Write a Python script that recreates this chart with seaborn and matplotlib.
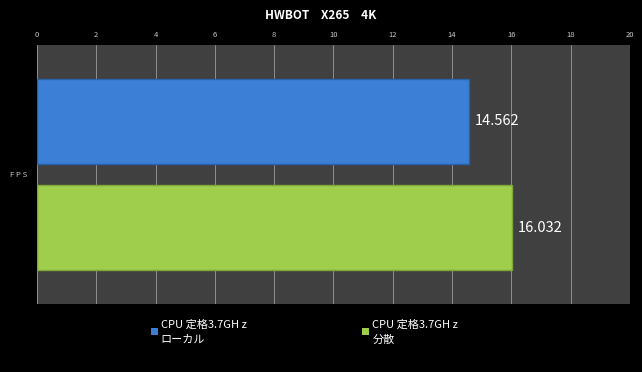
import matplotlib
matplotlib.use("Agg")
import matplotlib.pyplot as plt
import seaborn as sns
import pandas as pd

title = "HWBOT\u3000X265\u30004K"
categories = ["FPS"]
tick_labels = ["F P S"]
series = ["CPU 定格3.7GH z\nローカル", "CPU 定格3.7GH z\n分散"]
values = [14.562, 16.032]
value_labels = ["14.562", "16.032"]
colors = ["#3b80d6", "#9fcd4c"]
edge_colors = ["#2b5fa8", "#7fa83c"]
x_ticks = [0, 2, 4, 6, 8, 10, 12, 14, 16, 18, 20]

sns.set_style("dark")
plt.rcParams["font.family"] = ["Noto Sans CJK JP", "DejaVu Sans"]

df = pd.DataFrame({"cat": categories * len(series), "series": series, "value": values})

fig = plt.figure(figsize=(6.42, 3.72), dpi=100, facecolor="black")
ax = fig.add_axes([0.0576, 0.183, 0.9237, 0.696])
ax.set_facecolor("#404040")

sns.barplot(data=df, y="cat", x="value", hue="series", palette=colors,
            orient="h", width=0.82, gap=0.2, ax=ax, legend=True,
            linewidth=1, saturation=1)

for cont, ec in zip(ax.containers, edge_colors):
    for p in cont.patches:
        p.set_edgecolor(ec)

for cont, lab in zip(ax.containers, value_labels):
    ax.bar_label(cont, labels=[lab], padding=4, color="white", fontsize=10.5)

ax.set_xlim(0, 20)
ax.set_xticks(x_ticks)
ax.set_xticklabels([str(t) for t in x_ticks])
ax.xaxis.tick_top()
ax.tick_params(axis="x", colors="#c8c8c8", labelsize=5.5, length=0, pad=4)
ax.set_yticks([0])
ax.set_yticklabels(tick_labels)
ax.tick_params(axis="y", colors="#c8c8c8", labelsize=5.5, length=0, pad=7)
ax.grid(axis="x", color="#9a9a9a", linewidth=0.6)
ax.grid(axis="y", visible=False)
ax.set_axisbelow(True)
ax.set_xlabel("")
ax.set_ylabel("")
for s in ax.spines.values():
    s.set_visible(False)

fig.text(0.5, 0.958, title, color="white", fontsize=8.5, fontweight="bold",
         ha="center", va="center")

handles, labels = ax.get_legend_handles_labels()
ax.get_legend().remove()
leg = fig.legend(handles, labels, loc="upper left", bbox_to_anchor=(0.235, 0.142),
                 ncol=2, frameon=False, fontsize=8, labelcolor="white",
                 handlelength=0.6, handleheight=0.6, handletextpad=0.3,
                 columnspacing=10.4, borderaxespad=0, borderpad=0)
for t in leg.get_texts():
    t.set_linespacing(1.6)
for h, c in zip(leg.legend_handles, colors):
    h.set_edgecolor("none")
    h.set_facecolor(c)

fig.savefig("out.png", dpi=100, facecolor="black")
